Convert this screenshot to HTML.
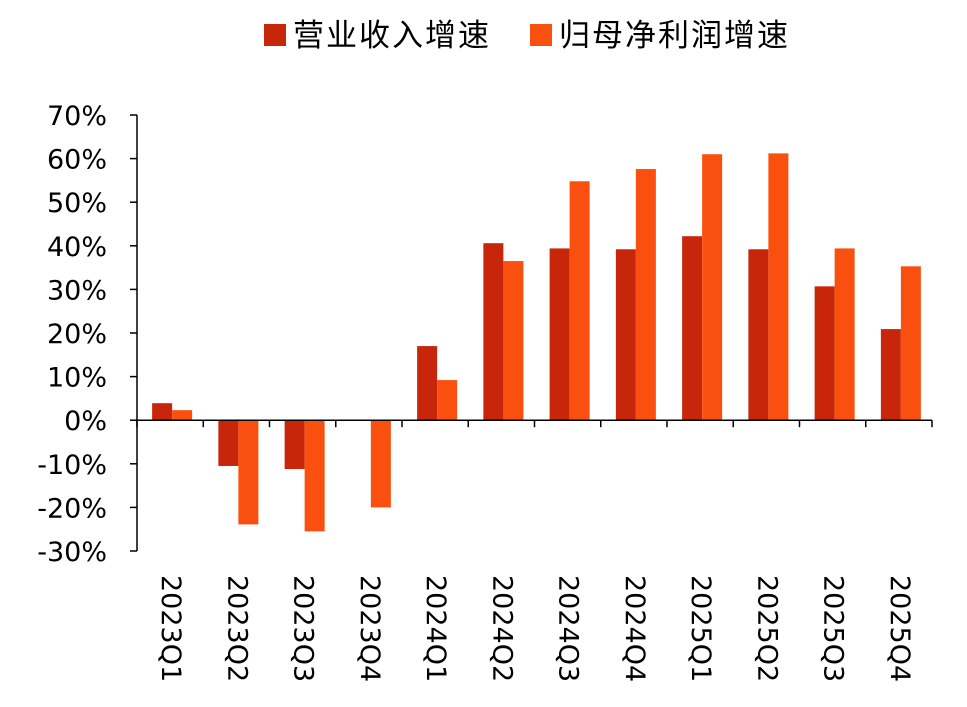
<!DOCTYPE html>
<html><head><meta charset="utf-8"><style>
html,body{margin:0;padding:0;background:#fff;}
svg{display:block;font-family:"DejaVu Sans","Noto Sans CJK SC",sans-serif;}
</style></head><body>
<svg id="chart" width="967" height="707">
<g>
<rect x="264" y="24" width="22" height="22" fill="#C8260A"/>
<text x="293" y="46" font-size="31" letter-spacing="2" fill="#000">营业收入增速</text>
<rect x="530" y="24" width="22" height="22" fill="#FA500F"/>
<text x="559" y="46" font-size="31" letter-spacing="2" fill="#000">归母净利润增速</text>
</g>
<g id="plot"></g>
</svg>
<script>
const categories=["2023Q1","2023Q2","2023Q3","2023Q4","2024Q1","2024Q2","2024Q3","2024Q4","2025Q1","2025Q2","2025Q3","2025Q4"];
const revenueGrowth=[3.9,-10.5,-11.2,0,17,40.6,39.4,39.2,42.2,39.2,30.7,20.9];
const profitGrowth=[2.3,-23.9,-25.5,-20,9.2,36.5,54.8,57.6,61,61.2,39.4,35.3];
const yTicks=[70,60,50,40,30,20,10,0,-10,-20,-30];
const ns="http://www.w3.org/2000/svg";
const g=document.getElementById('plot');
const x0=137,x1=932,yTop=115,yBot=551,vMax=70,vMin=-30;
const y=v=>yTop+(vMax-v)/(vMax-vMin)*(yBot-yTop);
const band=(x1-x0)/categories.length;
const xc=i=>x0+band*(i+0.5)+2;
function mk(t,a){const e=document.createElementNS(ns,t);for(const k in a)e.setAttribute(k,a[k]);g.appendChild(e);return e;}
const ax=mk('line',{x1:x0,y1:yTop,x2:x0,y2:yBot,stroke:'#000','stroke-width':1.5});


yTicks.forEach(v=>{
 const t=mk('line',{x1:x0-7,y1:y(v),x2:x0,y2:y(v),stroke:'#000','stroke-width':1.5});
 
 
 const l=mk('text',{x:x0-30,y:y(v)+10,'font-size':27,'text-anchor':'end',fill:'#000'});
 l.textContent=v+'%';
 
 
});
categories.forEach((c,i)=>{
 const cx=xc(i),w=20;
 [[revenueGrowth[i],'#C8260A',cx-w,'bar-revenue'],[profitGrowth[i],'#FA500F',cx,'bar-profit']].forEach(([v,col,bx,nm])=>{
  const r=mk('rect',{x:bx,y:Math.min(y(v),y(0)),width:w,height:Math.max(Math.abs(y(v)-y(0)),0.01),fill:col});
  
  
 });
 const l=mk('text',{transform:`translate(${cx-10},575) rotate(90)`,'font-size':27,fill:'#000'});
 l.textContent=c;
 
 
});
const xa=mk('line',{x1:x0,y1:y(0),x2:x1,y2:y(0),stroke:'#000','stroke-width':1.5});


for(let i=0;i<=categories.length;i++){
 const t=mk('line',{x1:x0+band*i,y1:y(0),x2:x0+band*i,y2:y(0)+7,stroke:'#000','stroke-width':1.5});
 
 
}
</script>
</body></html>
